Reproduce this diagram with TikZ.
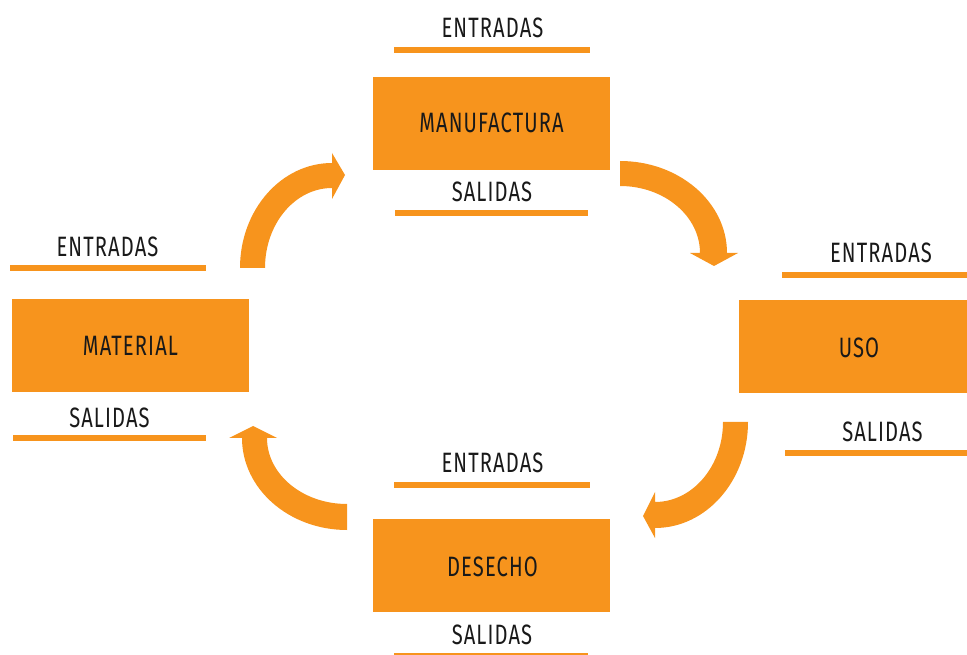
\documentclass[tikz,border=0pt]{standalone}
\usepackage{fontspec}
\newfontfamily\labfont[FakeStretch=0.72,LetterSpace=4]{Fira Sans}
\definecolor{orng}{RGB}{247,148,29}
\definecolor{ink}{RGB}{25,25,25}
\tikzset{
  stagebox/.style={fill=orng, draw=none, minimum width=237pt, minimum height=93pt, inner sep=0pt},
  lab/.style={font=\labfont\fontsize{28}{28}\selectfont, text=ink, inner sep=0pt},
  rule/.style={draw=orng, line width=6pt},
  cyclearrow/.style={fill=orng, draw=none}
}
\begin{document}
\begin{tikzpicture}[x=1pt,y=1pt]
\useasboundingbox (0,0) rectangle (967,654);
\clip (0,0) rectangle (967,654);

% boxes
\node[stagebox] (man) at (491.5,530.5) {};
\node[stagebox] (mat) at (130,308) {};
\node[stagebox, minimum width=228pt] (uso) at (853,307) {};
\node[stagebox] (des) at (491.5,88.5) {};

\node[lab] (manT) at (491.5,531) {MANUFACTURA};
\node[lab] (matT) at (130.5,308) {MATERIAL};
\node[lab] (usoT) at (859,306) {USO};
\node[lab] (desT) at (492.5,87) {DESECHO};

% entradas / salidas
\node[lab] (manE) at (492.5,626.5) {ENTRADAS};
\coordinate (manEa) at (394,604); \coordinate (manEb) at (590,604);
\draw[rule] (manEa) -- (manEb);
\node[lab] (manS) at (492,462) {SALIDAS};
\coordinate (manSa) at (395,441); \coordinate (manSb) at (588,441);
\draw[rule] (manSa) -- (manSb);

\node[lab] (matE) at (107.5,407) {ENTRADAS};
\coordinate (matEa) at (10,386); \coordinate (matEb) at (206,386);
\draw[rule] (matEa) -- (matEb);
\node[lab] (matS) at (109.5,236.5) {SALIDAS};
\coordinate (matSa) at (13,216); \coordinate (matSb) at (206,216);
\draw[rule] (matSa) -- (matSb);

\node[lab] (usoE) at (881,401) {ENTRADAS};
\coordinate (usoEa) at (782,379); \coordinate (usoEb) at (967,379);
\draw[rule] (usoEa) -- (usoEb);
\node[lab] (usoS) at (882.5,222) {SALIDAS};
\coordinate (usoSa) at (785,201); \coordinate (usoSb) at (967,201);
\draw[rule] (usoSa) -- (usoSb);

\node[lab] (desE) at (492.5,191) {ENTRADAS};
\coordinate (desEa) at (394,169); \coordinate (desEb) at (590,169);
\draw[rule] (desEa) -- (desEb);
\node[lab] (desS) at (492,19) {SALIDAS};
\coordinate (desSa) at (394,-1.5); \coordinate (desSb) at (588,-1.5);
\draw[rule] (desSa) -- (desSb);

% curved arrows
% material -> manufactura
\fill[cyclearrow] (265,386) -- (240,386)
  arc[start angle=180, end angle=90, x radius=92pt, y radius=105pt]
  -- (332,501) -- (345,479) -- (332,455) -- (332,466)
  arc[start angle=90, end angle=180, x radius=67pt, y radius=80pt] -- cycle;
% manufactura -> uso
\fill[cyclearrow] (620,468) -- (620,493)
  arc[start angle=90, end angle=0, x radius=107pt, y radius=92pt]
  -- (738,401) -- (714,388) -- (690,401) -- (700,401)
  arc[start angle=0, end angle=90, x radius=80pt, y radius=67pt] -- cycle;
% uso -> desecho
\fill[cyclearrow] (723,232) -- (748,232)
  arc[start angle=0, end angle=-90, x radius=93pt, y radius=106pt]
  -- (655,116) -- (643,138) -- (655,162) -- (655,152)
  arc[start angle=-90, end angle=0, x radius=68pt, y radius=80pt] -- cycle;
% desecho -> material
\fill[cyclearrow] (347,150) -- (347,124)
  arc[start angle=-90, end angle=-180, x radius=105pt, y radius=92pt]
  -- (229,216) -- (253,228) -- (277,216) -- (267,216)
  arc[start angle=180, end angle=270, x radius=80pt, y radius=66pt] -- cycle;
\end{tikzpicture}
\end{document}
